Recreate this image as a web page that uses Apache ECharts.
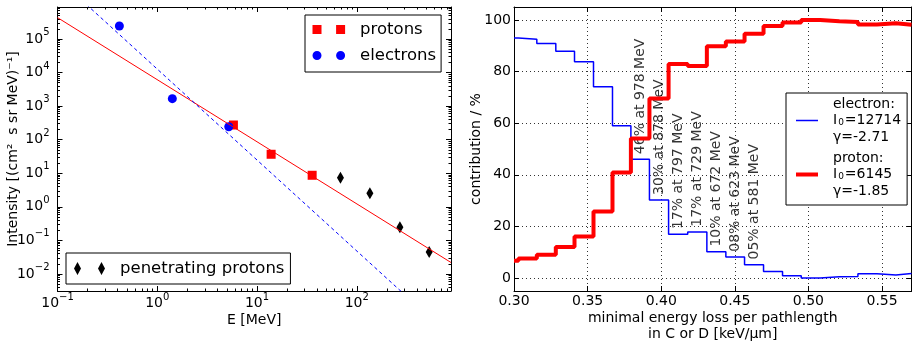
<!DOCTYPE html>
<html>
<head>
<meta charset="utf-8">
<script src="https://cdn.jsdelivr.net/npm/echarts@6/dist/echarts.min.js"></script>
<style>
  html, body { margin: 0; padding: 0; background: #fff; }
  #chart { width: 912px; height: 347px; }
</style>
</head>
<body>
<div id="chart"></div>
<script>
// left panel: measured spectra, E in MeV, intensity in (cm^2 s sr MeV)^-1
const protonE = [5.80, 13.85, 35.7];
const protonI = [274, 36.8, 8.71];
const electronE = [0.417, 1.416, 5.21];
const electronI = [2.44e5, 1667, 244];
const penetratingE = [68.6, 135.3, 270.5, 532];
const penetratingI = [7.38, 2.53, 0.246, 0.0452];
// power-law fits, end points at the plot edges
const protonFitE = [0.1, 880];
const protonFitI = [4.35e5, 0.0219];
const electronFitE = [0.1, 880];
const electronFitI = [6.52e6, 1.33e-4];

// right panel: contribution per bin (bin edges, one value per bin)
const binEdges = [0.30, 0.303, 0.3155, 0.3284, 0.3411, 0.354, 0.3669, 0.3794, 0.392, 0.405, 0.418,
  0.431, 0.4439, 0.4566, 0.4695, 0.4824, 0.4951, 0.508, 0.521, 0.5336, 0.5465, 0.5594, 0.57];
const electronShare = [93.0, 92.5, 90.9, 87.9, 83.8, 74.1, 59.0, 46.0, 30.2, 17.0, 17.9,
  10.2, 8.2, 5.2, 2.6, 0.9, 0.0, 0.5, 0.6, 1.7, 1.2, 1.8];
const protonShare = [6.7, 7.6, 9.0, 12.0, 16.1, 25.8, 40.9, 54.1, 69.6, 82.9, 82.1,
  89.8, 91.6, 94.6, 97.6, 99.0, 100, 99.5, 99.2, 98.2, 98.7, 98.1];
const noteBins = [7, 8, 9, 10, 11, 12, 13];
const noteTexts = ['46% at 978 MeV', '30% at 878 MeV', '17% at 797 MeV', '17% at 729 MeV',
  '10% at 672 MeV', '08% at 623 MeV', '05% at 581 MeV'];

// tick positions
const xDecades = [-1, 0, 1, 2];
const yDecades = [-3, -2, -1, 0, 1, 2, 3, 4, 5];
const xRange = [0.1, 880];
const yRange = [0.0031, 9e5];

const font = 'DejaVu Sans';
const black = '#000';

function minorTicks(decades, range) {
  const out = [];
  decades.forEach(p => {
    for (let k = 2; k <= 9; k++) {
      const v = k * Math.pow(10, p);
      if (v > range[0] && v < range[1]) out.push(v);
    }
  });
  return out;
}

const powRich = {
  b: { fontSize: 14, fontFamily: font, color: black },
  e: { fontSize: 10, fontFamily: font, color: black, padding: [0, 0, 13, 0] },
};
function powLabel(v) {
  const e = Math.log10(v);
  const r = Math.round(e);
  if (Math.abs(e - r) > 1e-6) return '';
  return '{b|10}{e|' + String(r).replace('-', '\u2212') + '}';
}

const lineStyle = { color: black, width: 1 };

function logAxis(grid, pos, range, extra) {
  return Object.assign({
    type: 'log', logBase: 10, gridIndex: grid, position: pos,
    min: range[0], max: range[1],
    axisLine: { show: true, onZero: false, lineStyle },
    axisTick: { show: true, inside: true, length: 5, lineStyle },
    axisLabel: { show: false },
    splitLine: { show: false },
    minorTick: { show: false },
  }, extra);
}
function minorAxis(grid, pos, range, ticks) {
  return logAxis(grid, pos, range, {
    axisLine: { show: false, onZero: false },
    axisTick: { show: true, inside: true, length: 2.5, lineStyle, customValues: ticks },
  });
}

const nameStyle = { fontSize: 14, fontFamily: font, color: black };

const xAxes = [
  logAxis(0, 'bottom', xRange, {
    name: 'E [MeV]', nameLocation: 'middle', nameGap: 22, nameTextStyle: nameStyle, nameMoveOverlap: false,
    axisLabel: { show: true, margin: 1, formatter: powLabel, rich: powRich },
  }),
  logAxis(0, 'top', xRange),
  minorAxis(0, 'bottom', xRange, minorTicks(xDecades, xRange)),
  minorAxis(0, 'top', xRange, minorTicks(xDecades, xRange)),
  {
    type: 'value', gridIndex: 1, position: 'bottom', min: 0.3, max: 0.57, interval: 0.05,
    name: 'minimal energy loss per pathlength\nin C or D [keV/\u03bcm]', nameLocation: 'middle', nameGap: 19,
    nameTextStyle: Object.assign({ lineHeight: 16 }, nameStyle), nameMoveOverlap: false,
    axisLine: { onZero: false, lineStyle },
    axisTick: { inside: true, length: 5, lineStyle },
    axisLabel: {
      margin: 3, fontSize: 14, fontFamily: font, color: black,
      formatter: v => (Math.abs(v * 20 - Math.round(v * 20)) < 1e-6 ? v.toFixed(2) : ''),
    },
    splitLine: { show: true, lineStyle: { color: '#333', width: 1, type: [1, 3] } },
  },
  {
    type: 'value', gridIndex: 1, position: 'top', min: 0.3, max: 0.57, interval: 0.05,
    axisLine: { onZero: false, lineStyle },
    axisTick: { inside: true, length: 5, lineStyle },
    axisLabel: { show: false }, splitLine: { show: false },
  },
];

const yAxes = [
  logAxis(0, 'left', yRange, {
    name: 'Intensity [(cm\u00b2  s sr MeV)\u207b\u00b9]', nameLocation: 'middle', nameGap: 37,
    nameTextStyle: nameStyle, nameMoveOverlap: false,
    axisLabel: { show: true, margin: 8, formatter: powLabel, rich: powRich },
  }),
  logAxis(0, 'right', yRange),
  minorAxis(0, 'left', yRange, minorTicks(yDecades, yRange)),
  minorAxis(0, 'right', yRange, minorTicks(yDecades, yRange)),
  {
    type: 'value', gridIndex: 1, position: 'left', min: -5, max: 105,
    name: 'contribution / %', nameLocation: 'middle', nameGap: 31, nameTextStyle: nameStyle, nameMoveOverlap: false,
    axisLine: { onZero: false, lineStyle },
    axisTick: { inside: true, length: 5, lineStyle },
    axisLabel: {
      margin: 3, fontSize: 14, fontFamily: font, color: black,
      formatter: v => (v % 20 === 0 ? String(v) : ''),
    },
    splitLine: { show: true, lineStyle: { color: '#333', width: 1, type: [1, 3] } },
  },
  {
    type: 'value', gridIndex: 1, position: 'right', min: -5, max: 105,
    axisLine: { onZero: false, lineStyle },
    axisTick: { inside: true, length: 5, lineStyle },
    axisLabel: { show: false }, splitLine: { show: false },
  },
];

const zip = (xs, ys) => xs.map((x, i) => [x, ys[i]]);
const steps = vals => binEdges.map((x, i) => [x, vals[Math.min(i, vals.length - 1)]]);

const legendText = { fontSize: 16.5, fontFamily: font, color: black, padding: [0, 0, 0, 10] };
const squaresIcon = 'path://M0,0H9V9H0Z M23.6,0H32.6V9H23.6Z';
const dotsIcon = 'path://M0,4.5A4.5,4.5,0,1,1,9,4.5A4.5,4.5,0,1,1,0,4.5Z M23.6,4.5A4.5,4.5,0,1,1,32.6,4.5A4.5,4.5,0,1,1,23.6,4.5Z';
const diamondsIcon = 'path://M3.5,0L7,6.5L3.5,13L0,6.5Z M27.5,0L31,6.5L27.5,13L24,6.5Z';
const noSymbol = { opacity: 0, color: 'rgba(0,0,0,0)', borderWidth: 0 };

const option = {
  animation: false,
  backgroundColor: '#fff',
  textStyle: { fontFamily: font },
  grid: [
    { left: 57.5, top: 7, width: 393.5, height: 284, outerBoundsMode: 'none', containLabel: false },
    { left: 514, top: 7, width: 397.5, height: 284, outerBoundsMode: 'none', containLabel: false },
  ],
  xAxis: xAxes,
  yAxis: yAxes,
  legend: [
    {
      data: [{ name: 'protons', icon: squaresIcon }, { name: 'electrons', icon: dotsIcon }],
      orient: 'vertical', left: 305, top: 15, itemWidth: 32.6, itemHeight: 9, itemGap: 9,
      padding: [6, 5, 8, 7.5], borderColor: black, borderWidth: 1, borderRadius: 0, backgroundColor: '#fff',
      textStyle: legendText, selectedMode: false,
    },
    {
      data: [{ name: 'penetrating protons', icon: diamondsIcon }],
      left: 66, top: 253, itemWidth: 31, itemHeight: 13,
      padding: [7, 6, 7, 8], borderColor: black, borderWidth: 1, borderRadius: 0, backgroundColor: '#fff',
      textStyle: legendText, selectedMode: false,
    },
    {
      data: [
        { name: 'electron', lineStyle: { width: 1.5 }, itemStyle: noSymbol },
        { name: 'proton', lineStyle: { width: 4 }, itemStyle: noSymbol },
      ],
      orient: 'vertical', left: 786, top: 93, itemWidth: 22, itemHeight: 4, itemGap: 4.5,
      padding: [2.75, 6, 5.75, 8], borderColor: black, borderWidth: 1, borderRadius: 0, backgroundColor: '#fff',
      selectedMode: false,
      formatter: name => (name === 'electron'
        ? 'electron:\n{n|I}{s|0}{n|=12714}\n\u03b3=-2.71'
        : 'proton:\n{n|I}{s|0}{n|=6145}\n\u03b3=-1.85'),
      textStyle: {
        fontSize: 14, fontFamily: font, color: black, lineHeight: 16.5, padding: [0, 0, 0, 10],
        rich: {
          n: { fontSize: 14, fontFamily: font, color: black },
          s: { fontSize: 9, fontFamily: font, color: black, padding: [5, 1, 0, 1] },
        },
      },
    },
  ],
  series: [
    {
      name: 'proton fit', type: 'line', xAxisIndex: 0, yAxisIndex: 0, silent: true,
      data: zip(protonFitE, protonFitI), symbol: 'none', clip: true,
      lineStyle: { color: '#ff0000', width: 1 },
    },
    {
      name: 'electron fit', type: 'line', xAxisIndex: 0, yAxisIndex: 0, silent: true,
      data: zip(electronFitE, electronFitI), symbol: 'none', clip: true,
      lineStyle: { color: '#0000ff', width: 1, type: [3.5, 3] },
    },
    {
      name: 'protons', type: 'scatter', xAxisIndex: 0, yAxisIndex: 0,
      data: zip(protonE, protonI), symbol: 'rect', symbolSize: 9,
      itemStyle: { color: '#ff0000', opacity: 1 },
    },
    {
      name: 'electrons', type: 'scatter', xAxisIndex: 0, yAxisIndex: 0,
      data: zip(electronE, electronI), symbol: 'circle', symbolSize: 9,
      itemStyle: { color: '#0000ff', opacity: 1 },
    },
    {
      name: 'penetrating protons', type: 'scatter', xAxisIndex: 0, yAxisIndex: 0,
      data: zip(penetratingE, penetratingI), symbol: 'diamond', symbolSize: [7, 12],
      itemStyle: { color: black, opacity: 1 },
    },
    {
      name: 'electron', type: 'line', xAxisIndex: 4, yAxisIndex: 4, step: 'end',
      data: steps(electronShare), symbol: 'none', color: '#0000ff',
      lineStyle: { color: '#0000ff', width: 1.5 },
    },
    {
      name: 'proton', type: 'line', xAxisIndex: 4, yAxisIndex: 4, step: 'end',
      data: steps(protonShare), symbol: 'none', color: '#ff0000',
      lineStyle: { color: '#ff0000', width: 4 },
    },
    {
      name: 'notes', type: 'scatter', xAxisIndex: 4, yAxisIndex: 4, silent: true,
      symbolSize: 0,
      data: noteBins.map((b, i) => ({
        name: noteTexts[i],
        value: [(binEdges[b] + binEdges[b + 1]) / 2, electronShare[b] + 2],
      })),
      label: {
        show: true, formatter: '{b}', position: 'inside', rotate: 90,
        align: 'left', verticalAlign: 'middle',
        fontSize: 14, fontFamily: font, color: black, textBorderWidth: 0,
      },
    },
  ],
};

const chart = echarts.init(document.getElementById('chart'), null, { renderer: 'canvas' });
chart.setOption(option);
</script>
</body>
</html>
